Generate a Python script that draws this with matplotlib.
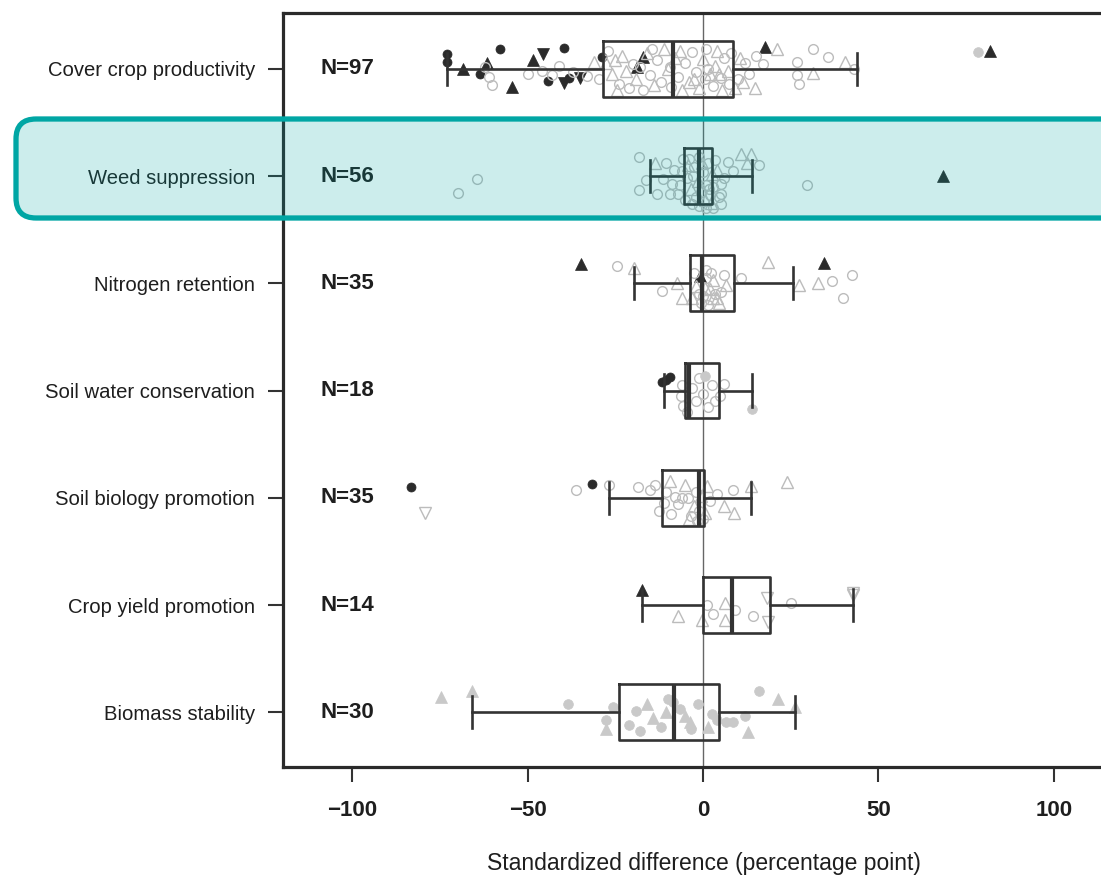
import matplotlib

matplotlib.use("Agg")
import matplotlib.pyplot as plt
from matplotlib.patches import FancyBboxPatch

plt.rcParams["font.family"] = ["Liberation Sans", "DejaVu Sans"]

categories = [
    "Cover crop productivity",
    "Weed suppression",
    "Nitrogen retention",
    "Soil water conservation",
    "Soil biology promotion",
    "Crop yield promotion",
    "Biomass stability",
]
counts = [97, 56, 35, 18, 35, 14, 30]

# box statistics
q1 = [-28.5, -5.4, -3.7, -5.1, -11.7, 0.0, -24.0]
med = [-8.5, -1.1, -0.3, -3.9, -1.2, 8.3, -8.3]
q3 = [8.5, 2.6, 8.8, 4.6, 0.3, 19.0, 4.6]
whislo = [-73.0, -15.0, -19.7, -11.1, -26.8, -17.4, -65.8]
whishi = [44.0, 14.0, 25.6, 14.0, 13.7, 42.8, 26.2]

# points: (value, vertical jitter, kind)
pts_cover = [
    (-73, -0.14, "ko"), (-73, -0.06, "ko"), (-68.4, 0.0, "k^"), (-61.5, -0.05, "k^"),
    (-63.5, 0.05, "ko"), (-57.8, -0.18, "ko"), (-54.4, 0.17, "k^"), (-48.4, -0.08, "k^"),
    (-45.6, -0.14, "kv"), (-39.6, -0.19, "ko"), (-44.2, 0.11, "ko"), (-39.6, 0.13, "kv"),
    (-38.2, 0.09, "ko"), (-35, 0.09, "kv"), (-28.8, -0.11, "ko"), (-17.1, -0.11, "k^"),
    (-18.8, -0.02, "k^"), (17.7, -0.2, "k^"), (81.8, -0.17, "k^"), (78.4, -0.16, "fo"),
    (-61, 0.08, "go"), (-60, 0.15, "go"), (-62, -0.02, "go"), (-46, 0.02, "go"),
    (-43, 0.06, "go"), (-41, -0.03, "go"), (-37, 0.03, "go"), (-33, 0.07, "go"),
    (-31, -0.06, "g^"), (-50, 0.05, "go"), (-29.5, 0.1, "go"), (-27.5, -0.05, "g^"),
    (-27, -0.17, "go"), (-26, 0.05, "g^"), (-25, -0.08, "g^"), (-24, 0.14, "go"),
    (-23, -0.12, "g^"), (-22, 0.02, "g^"), (-21, 0.18, "go"), (-20, -0.04, "go"),
    (-19, 0.1, "g^"), (-17, 0.2, "go"), (-16, -0.15, "g^"), (-15, 0.06, "go"),
    (-14, 0.15, "g^"), (-13, -0.08, "go"), (-12, 0.12, "go"), (-11, -0.18, "g^"),
    (-10, 0.0, "g^"), (-9, 0.17, "go"), (-8, -0.1, "g^"), (-7, 0.08, "go"),
    (-6, 0.2, "g^"), (-5, -0.05, "go"), (-4, 0.12, "g^"), (-3, -0.16, "go"),
    (-2, 0.03, "go"), (-1, 0.18, "g^"), (0, -0.09, "g^"), (0.5, 0.1, "go"),
    (1, -0.18, "go"), (2, 0.05, "g^"), (3, 0.16, "go"), (3.5, -0.03, "g^"),
    (4, -0.17, "g^"), (5, 0.09, "go"), (5.5, 0.2, "g^"), (6, -0.1, "go"),
    (7, 0.02, "g^"), (7.5, 0.14, "go"), (8, -0.15, "go"), (-18, -0.02, "go"),
    (-14.5, -0.18, "go"), (-6.5, -0.17, "g^"), (-2.5, 0.1, "g^"), (1.5, 0.0, "go"),
    (4.5, 0.05, "g^"), (-24.5, 0.2, "g^"), (-9.5, -0.02, "go"), (9, 0.18, "g^"),
    (10, 0.1, "go"), (10.5, -0.1, "g^"), (11.5, 0.12, "g^"), (12, -0.05, "go"),
    (13, 0.05, "go"), (14.8, 0.18, "g^"), (15, -0.12, "go"), (17, -0.04, "go"),
    (21, -0.18, "g^"), (26.8, -0.06, "go"), (26.8, 0.06, "go"), (27.5, 0.14, "go"),
    (31.4, -0.18, "go"), (31.4, 0.04, "g^"), (35.7, -0.11, "go"), (40.5, -0.06, "g^"),
    (43, 0.0, "go"),
]
pts_weed = [
    (-69.8, 0.16, "go"), (-64.4, 0.03, "go"), (-18.2, -0.18, "go"), (-18.2, 0.13, "go"),
    (-13.7, -0.12, "g^"), (-10.5, -0.12, "go"), (-8.3, -0.06, "go"), (-8.8, 0.07, "go"),
    (-13.1, 0.17, "go"), (-9.4, 0.17, "go"), (-7.1, 0.17, "go"), (-16.2, 0.04, "go"),
    (-5.7, -0.16, "go"), (-4.0, -0.16, "go"), (7.1, -0.13, "go"), (10.8, -0.21, "g^"),
    (13.7, -0.21, "g^"), (12.5, -0.12, "g^"), (16.0, -0.1, "go"), (5.1, 0.07, "go"),
    (5.1, 0.17, "go"), (5.1, 0.26, "go"), (4.0, -0.06, "g^"), (29.6, 0.08, "go"),
    (68.4, 0.0, "k^"), (-4.5, 0.02, "go"), (-3.5, 0.12, "g^"), (-2.5, -0.08, "go"),
    (-2.0, 0.2, "go"), (-1.5, 0.05, "g^"), (-1.0, -0.18, "go"), (-0.5, 0.15, "go"),
    (0.0, -0.04, "go"), (0.5, 0.22, "g^"), (1.0, 0.08, "go"), (1.5, -0.12, "go"),
    (2.0, 0.18, "go"), (2.5, -0.02, "g^"), (3.0, 0.1, "go"), (3.5, -0.15, "go"),
    (-5.0, 0.22, "go"), (-3.0, 0.26, "go"), (-1.2, 0.28, "go"), (0.8, 0.3, "go"),
    (2.2, 0.25, "g^"), (-6.5, 0.08, "go"), (6.0, 0.02, "go"), (-11.5, 0.03, "go"),
    (8.5, -0.05, "go"), (-2.8, 0.0, "go"), (1.8, 0.12, "go"), (-0.3, -0.12, "g^"),
    (4.5, 0.2, "go"), (-6.0, -0.05, "go"), (3.0, 0.3, "go"), (-4.2, -0.1, "g^"),
]
pts_nitrogen = [
    (-34.8, -0.18, "k^"), (34.5, -0.19, "k^"), (-0.8, -0.07, "k^"), (-24.5, -0.16, "go"),
    (-19.7, -0.14, "g^"), (-11.7, 0.07, "go"), (-7.4, 0.0, "g^"), (-6.0, 0.14, "g^"),
    (-3.1, 0.14, "g^"), (2.9, 0.14, "g^"), (4.0, 0.14, "g^"), (6.6, 0.02, "g^"),
    (2.3, -0.1, "go"), (10.8, -0.05, "go"), (18.5, -0.2, "g^"), (27.4, 0.02, "g^"),
    (32.8, 0.0, "g^"), (36.8, -0.02, "go"), (42.5, -0.08, "go"), (39.9, 0.14, "go"),
    (1.0, -0.05, "go"), (2.0, 0.05, "g^"), (0.0, 0.12, "go"), (-1.0, 0.1, "go"),
    (3.0, -0.03, "g^"), (5.0, 0.08, "go"), (1.0, -0.12, "go"), (-2.0, 0.03, "g^"),
    (-0.5, 0.18, "go"), (4.5, 0.18, "g^"), (1.5, 0.2, "go"), (-2.5, -0.1, "go"),
    (6.0, -0.08, "go"), (0.5, 0.04, "g^"), (3.5, 0.1, "go"),
]
pts_water = [
    (-11.7, -0.08, "ko"), (-10.6, -0.1, "ko"), (-9.4, -0.13, "ko"), (0.6, -0.14, "fo"),
    (14.0, 0.17, "fo"), (-6.0, -0.05, "go"), (-6.2, 0.05, "go"), (-5.8, 0.14, "go"),
    (6.0, -0.06, "go"), (4.8, 0.05, "go"), (-3.0, -0.02, "go"), (-2.0, 0.1, "go"),
    (-1.0, -0.12, "go"), (0.0, 0.03, "go"), (1.5, 0.15, "go"), (2.5, -0.05, "go"),
    (-4.5, 0.2, "go"), (3.5, 0.1, "go"),
]
pts_biology = [
    (-83.2, -0.1, "ko"), (-79.2, 0.14, "gv"), (-31.6, -0.13, "ko"), (-36.2, -0.07, "go"),
    (-26.8, -0.12, "go"), (-18.5, -0.1, "go"), (-15.1, -0.07, "go"), (-13.7, -0.12, "go"),
    (-9.4, -0.16, "g^"), (-8.0, -0.01, "go"), (-6.0, 0.0, "go"), (-4.3, 0.0, "go"),
    (-12.5, 0.12, "go"), (-3.4, 0.17, "go"), (-2.5, 0.08, "g^"), (0.5, 0.14, "g^"),
    (1.2, -0.11, "g^"), (8.5, -0.07, "go"), (6.0, 0.08, "g^"), (8.8, 0.14, "g^"),
    (13.7, -0.11, "g^"), (23.9, -0.15, "g^"), (-10.5, -0.05, "go"), (-7.0, 0.06, "go"),
    (-5.0, -0.12, "g^"), (-2.0, -0.05, "go"), (-1.0, 0.12, "go"), (-0.5, -0.02, "g^"),
    (0.0, 0.2, "go"), (2.0, 0.03, "go"), (4.0, -0.04, "go"), (-11.0, 0.05, "go"),
    (-9.0, 0.15, "go"), (-4.0, 0.2, "g^"), (-1.8, 0.22, "go"),
]
pts_yield = [
    (-17.4, -0.14, "k^"), (-7.1, 0.1, "g^"), (-0.3, 0.14, "g^"), (1.1, 0.0, "go"),
    (6.3, -0.02, "g^"), (6.3, 0.14, "g^"), (9.1, 0.05, "go"), (14.2, 0.1, "go"),
    (18.2, -0.07, "gv"), (18.5, 0.16, "gv"), (25.0, -0.02, "go"), (42.8, -0.11, "gv"),
    (42.8, -0.09, "gv"), (3.0, 0.08, "go"),
]
pts_biomass = [
    (-74.6, -0.14, "f^"), (-65.8, -0.2, "f^"), (-38.5, -0.08, "fo"), (-25.6, -0.05, "fo"),
    (-27.6, 0.07, "fo"), (-27.6, 0.16, "f^"), (-19.1, -0.01, "fo"), (-16.0, -0.08, "f^"),
    (-14.2, 0.05, "f^"), (-18.0, 0.17, "fo"), (-10.0, -0.12, "fo"), (-10.5, 0.0, "f^"),
    (-6.6, -0.03, "fo"), (-3.8, 0.09, "f^"), (-3.3, 0.16, "fo"), (1.4, 0.14, "f^"),
    (4.0, 0.07, "fo"), (6.6, 0.09, "fo"), (8.5, 0.09, "fo"), (12.0, 0.03, "fo"),
    (16.0, -0.2, "fo"), (21.4, -0.12, "f^"), (12.8, 0.18, "f^"), (26.2, -0.05, "f^"),
    (-8.5, -0.1, "fo"), (-21.0, 0.12, "fo"), (-5.0, 0.03, "f^"), (2.5, 0.02, "fo"),
    (-12.0, 0.14, "fo"), (-1.5, -0.08, "fo"),
]
row_points = [pts_cover, pts_weed, pts_nitrogen, pts_water, pts_biology, pts_yield, pts_biomass]

DARK = "#2b2b2b"
LIGHT = "#bcbcbc"
FILL = "#c9c9c9"
TEXT = "#1e1e1e"
STYLES = {
    "ko": dict(marker="o", ms=6.5, mfc=DARK, mec=DARK, mew=0.5),
    "k^": dict(marker="^", ms=8.5, mfc=DARK, mec=DARK, mew=0.5),
    "kv": dict(marker="v", ms=8.5, mfc=DARK, mec=DARK, mew=0.5),
    "go": dict(marker="o", ms=7, mfc="none", mec=LIGHT, mew=1.0),
    "g^": dict(marker="^", ms=8.5, mfc="none", mec=LIGHT, mew=1.0),
    "gv": dict(marker="v", ms=8.5, mfc="none", mec=LIGHT, mew=1.0),
    "fo": dict(marker="o", ms=7, mfc=FILL, mec=FILL, mew=0.5),
    "f^": dict(marker="^", ms=8.5, mfc=FILL, mec=FILL, mew=0.5),
}

positions = list(range(1, len(categories) + 1))

fig = plt.figure(figsize=(11.01, 8.77), dpi=100)
ax = fig.add_axes([283 / 1101, 1 - 767 / 877, (1124 - 283) / 1101, (767 - 13) / 877])

ax.axvline(0, color="#666666", lw=1.0, zorder=1)

for pos, pts in zip(positions, row_points, strict=True):
    for kind, style in STYLES.items():
        xs = [p[0] for p in pts if p[2] == kind]
        ys = [pos + p[1] for p in pts if p[2] == kind]
        if xs:
            ax.plot(xs, ys, linestyle="none", zorder=2, **style)

stats = [
    dict(med=m, q1=a, q3=b, whislo=lo, whishi=hi, fliers=[])
    for m, a, b, lo, hi in zip(med, q1, q3, whislo, whishi, strict=True)
]
box_kw = dict(
    positions=positions,
    widths=0.52,
    capwidths=0.3,
    showfliers=False,
    boxprops=dict(color="#333333", lw=1.9),
    medianprops=dict(color="#333333", lw=3.0),
    whiskerprops=dict(color="#333333", lw=1.9),
    capprops=dict(color="#333333", lw=1.9),
    zorder=3,
)
try:
    ax.bxp(stats, orientation="horizontal", **box_kw)
except TypeError:
    ax.bxp(stats, vert=False, **box_kw)

for pos, n in zip(positions, counts, strict=True):
    ax.text(-109, pos, f"N={n}", ha="left", va="center", fontsize=16,
            fontweight="bold", color=TEXT)

ax.set_xlim(-119.7, 120)
ax.set_ylim(7.51, 0.48)
ax.set_yticks(positions)
ax.set_yticklabels(categories, fontsize=14.6, color=TEXT)
ax.set_xticks([-100, -50, 0, 50, 100])
ax.set_xticklabels(["\u2212100", "\u221250", "0", "50", "100"], fontsize=16,
                   fontweight="bold", color=TEXT)
ax.tick_params(axis="y", length=11, width=1.5, color="#333333", pad=9)
ax.tick_params(axis="x", length=11, width=1.5, color="#333333", pad=13)
ax.set_xlabel("Standardized difference (percentage point)", fontsize=16.5,
              color=TEXT, labelpad=22)
for side in ("left", "top", "bottom"):
    ax.spines[side].set_linewidth(2.3)
    ax.spines[side].set_color("#2a2a2a")
ax.spines["right"].set_visible(False)

# highlight band over the weed suppression row (inches, so corners stay round)
band = FancyBboxPatch(
    (0.16, 6.59), 11.2, 0.99,
    boxstyle="round,pad=0,rounding_size=0.2",
    transform=fig.dpi_scale_trans,
    facecolor=(0.0, 0.65, 0.64, 0.2),
    edgecolor="#00a6a4",
    lw=3.8,
    zorder=5,
)
fig.add_artist(band)

fig.savefig("out.png", dpi=100)
